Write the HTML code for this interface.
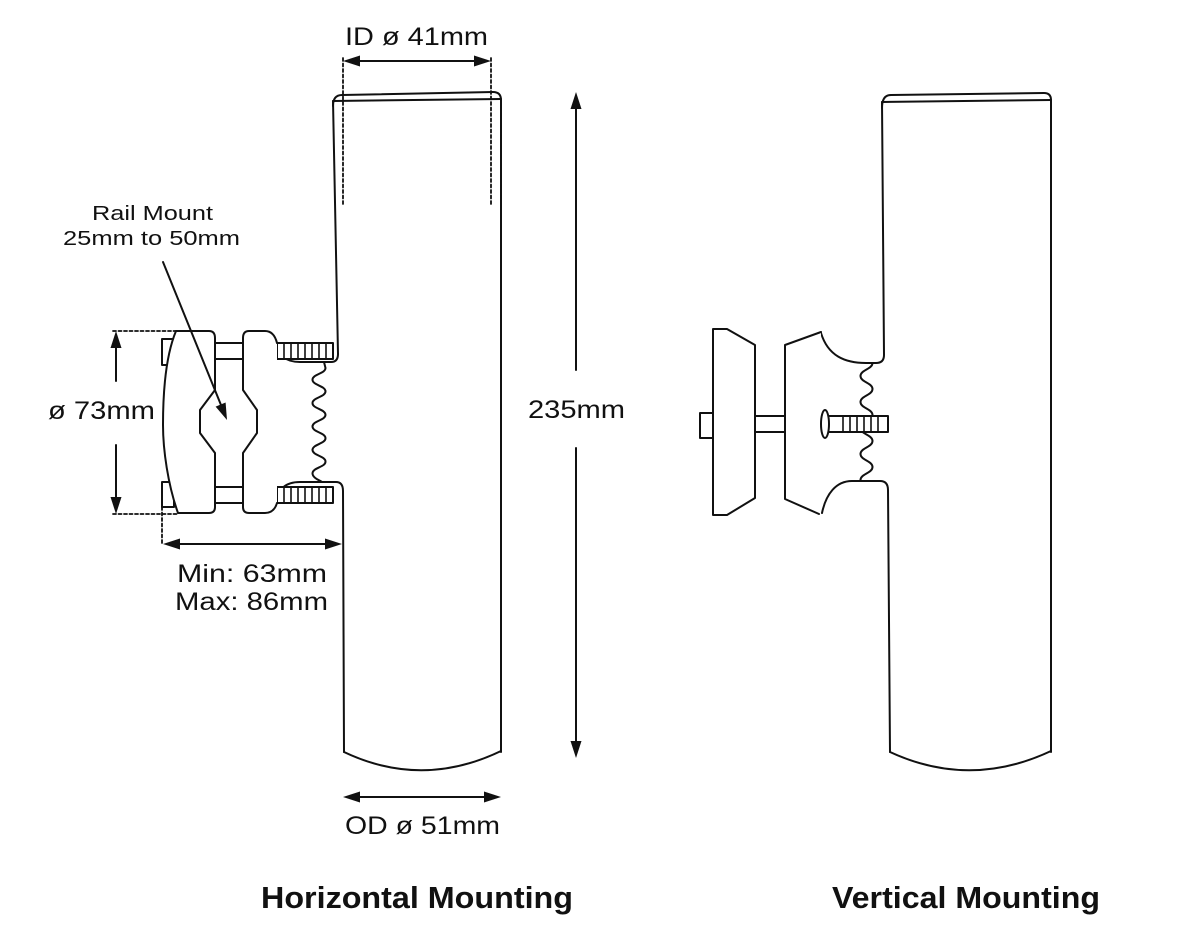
<!DOCTYPE html>
<html><head><meta charset="utf-8"><style>
html,body{margin:0;padding:0;background:#fff;}
svg{display:block;}
text{font-family:"Liberation Sans",sans-serif;fill:#111;}
</style></head><body>
<svg width="1200" height="950" viewBox="0 0 1200 950" xmlns="http://www.w3.org/2000/svg">
<g fill="none" stroke="#111" stroke-width="2" stroke-linejoin="round" stroke-linecap="round">

<!-- LEFT TUBE -->
<path d="M333,106 Q333,95 342,95 L493,92 Q501,92 501,100"/>
<path d="M333,101 L501,99"/>
<path d="M501,100 L501,752"/>
<path d="M333,101 L338,354"/>
<path d="M344,752 Q422,789 501,751"/>

<!-- upper connector -->
<path d="M275,340 C278,356 286,362 300,362 L331,362 Q338,362 338,354"/>
<!-- lower connector -->
<path d="M275,505 C278,488 286,482 300,482 L336,482 Q343,482 343,491 L344,752"/>

<!-- spring left -->
<path d="M324,362 L325.5,368 c0,5.6 -13,6.1 -13,11.7 s13,6.1 13,11.7 s-13,6.1 -13,11.7 s13,6.1 13,11.7 s-13,6.1 -13,11.7 s13,6.1 13,11.7 s-13,6.1 -13,11.7 s13,6.1 13,11.7 s-13,6.1 -13,11.7 c0,4 5,6 9.5,8.7" stroke-width="2"/>

<!-- threads left -->
<rect x="277" y="343" width="56" height="16" fill="#fff"/>
<path d="M284,343V359M291,343V359M298,343V359M305,343V359M312,343V359M319,343V359M326,343V359" stroke-width="1.6"/>
<rect x="277" y="487" width="56" height="16" fill="#fff"/>
<path d="M284,487V503M291,487V503M298,487V503M305,487V503M312,487V503M319,487V503M326,487V503" stroke-width="1.6"/>

<!-- rods between jaws -->
<path d="M215,343H243M215,359H243M215,487H243M215,503H243"/>

<!-- bolt stubs -->
<rect x="162" y="339" width="12" height="26" fill="#fff"/>
<rect x="162" y="482" width="12" height="25" fill="#fff"/>

<!-- outer jaw -->
<path fill="#fff" d="M176,331 L209,331 Q215,331 215,338 L215,390 L200,410 L200,433 L215,453 L215,507 Q215,513 209,513 L178,513 C168,485 163,450 163,425 C163,390 166,355 176,331 Z"/>
<!-- inner jaw -->
<path fill="#fff" d="M277,343 Q274,331 265,331 L249,331 Q243,331 243,338 L243,390 L257,410 L257,433 L243,453 L243,507 Q243,513 249,513 L265,513 Q274,513 277,503"/>

<!-- ø73 dimension -->
<path d="M113,331H176M113,514H178M162,507V545" stroke-dasharray="3 2.5" stroke-width="1.8"/>
<path d="M116,346V381M116,445V499"/>
<!-- Min dimension -->
<path d="M176,544H328"/>
<!-- rail mount leader -->
<path d="M163,262 L221,405"/>

<!-- ID dimension -->
<path d="M357,61H477"/>
<path d="M343,58V205M491,58V205" stroke-dasharray="3 2.5" stroke-width="1.8"/>
<!-- 235 -->
<path d="M576,106V370M576,448V744"/>
<!-- OD -->
<path d="M357,797H487"/>

<!-- RIGHT TUBE -->
<path d="M882,108 Q882,95 891,95 L1044,93 Q1051,93 1051,100"/>
<path d="M882,102 L1051,100"/>
<path d="M1051,100 L1051,752"/>
<path d="M882,102 L884,355 Q884,363 876,363 L866,363 C845,363 828,356 821,333"/>
<path d="M822,513 C826,494 836,481 852,481 L880,481 Q888,481 888,490 L890,752"/>
<path d="M890,752 Q970,789 1051,751"/>

<!-- spring right -->
<path d="M872.5,363 c0,6.2 -12,6.8 -12,13 s12,6.8 12,13 s-12,6.8 -12,13 s12,6.8 12,13 s-12,6.8 -12,13 s12,6.8 12,13 s-12,6.8 -12,13 s12,6.8 12,13 s-12,6.8 -12,13" stroke-width="2"/>

<!-- front disc -->
<path fill="#fff" d="M821,332 L785,345 L785,499 L819,514"/>
<!-- back disc -->
<path fill="#fff" d="M713,329 L727,329 L755,345 L755,498 L727,515 L713,515 Z"/>
<!-- bolt head -->
<rect x="700" y="413" width="13" height="25" fill="#fff"/>
<!-- rod -->
<path d="M755,416H785M755,432H785"/>
<!-- threaded rod -->
<rect x="825" y="416" width="63" height="16" fill="#fff"/>
<path d="M843,416V432M850,416V432M857,416V432M864,416V432M871,416V432M878,416V432" stroke-width="1.6"/>
<ellipse cx="825" cy="424" rx="4" ry="14" fill="#fff"/>
</g>

<!-- arrowheads -->
<g fill="#111" stroke="none">
<polygon points="116,331 110.5,348 121.5,348"/>
<polygon points="116,514 110.5,497 121.5,497"/>
<polygon points="163,544 180,538.5 180,549.5"/>
<polygon points="342,544 325,538.5 325,549.5"/>
<polygon points="227,420 225.6,402.5 215.6,406.6"/>
<polygon points="343,61 360,55.5 360,66.5"/>
<polygon points="491,61 474,55.5 474,66.5"/>
<polygon points="576,92 570.5,109 581.5,109"/>
<polygon points="576,758 570.5,741 581.5,741"/>
<polygon points="343,797 360,791.5 360,802.5"/>
<polygon points="501,797 484,791.5 484,802.5"/>
</g>

<!-- labels -->
<text x="345" y="45" font-size="25" textLength="143" lengthAdjust="spacingAndGlyphs">ID ø 41mm</text>
<text x="92" y="220" font-size="20" textLength="121" lengthAdjust="spacingAndGlyphs">Rail Mount</text>
<text x="63" y="245" font-size="20" textLength="177" lengthAdjust="spacingAndGlyphs">25mm to 50mm</text>
<text x="48" y="419" font-size="25" textLength="107" lengthAdjust="spacingAndGlyphs">ø 73mm</text>
<text x="177" y="582" font-size="25" textLength="150" lengthAdjust="spacingAndGlyphs">Min: 63mm</text>
<text x="175" y="610" font-size="25" textLength="153" lengthAdjust="spacingAndGlyphs">Max: 86mm</text>
<text x="528" y="418" font-size="25" textLength="97" lengthAdjust="spacingAndGlyphs">235mm</text>
<text x="345" y="834" font-size="25" textLength="155" lengthAdjust="spacingAndGlyphs">OD ø 51mm</text>
<text x="261" y="908" font-size="31" font-weight="bold" textLength="312" lengthAdjust="spacingAndGlyphs">Horizontal Mounting</text>
<text x="832" y="908" font-size="31" font-weight="bold" textLength="268" lengthAdjust="spacingAndGlyphs">Vertical Mounting</text>
</svg>
</body></html>
